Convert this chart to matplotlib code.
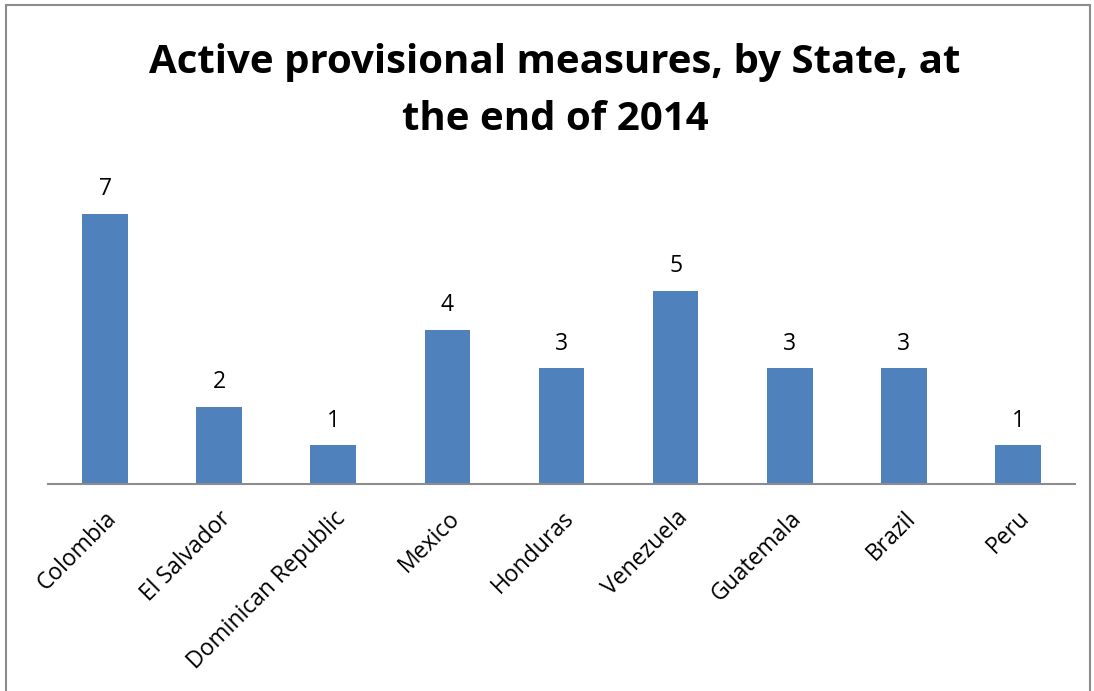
import matplotlib.pyplot as plt
from matplotlib.patches import Rectangle

states = [
    "Colombia",
    "El Salvador",
    "Dominican Republic",
    "Mexico",
    "Honduras",
    "Venezuela",
    "Guatemala",
    "Brazil",
    "Peru",
]
measures = [7, 2, 1, 4, 3, 5, 3, 3, 1]
title_lines = [
    "Active provisional measures, by State, at",
    "the end of 2014",
]

plt.rcParams["font.family"] = ["Open Sans", "DejaVu Sans"]

figure = plt.figure(figsize=(10.94, 6.91), dpi=100)

# chart frame (grey outline, bottom cropped)
figure.add_artist(
    Rectangle(
        (6 / 1094, -0.01),
        (1090 - 6) / 1094,
        (691 - 5) / 691 + 0.01,
        transform=figure.transFigure,
        fill=False,
        edgecolor="#8c8c8c",
        linewidth=1.5,
    )
)

axis = figure.add_axes(
    [48 / 1094, (691 - 484) / 691, (1075 - 48) / 1094, (484 - 175) / 691]
)

positions = range(len(states))
axis.bar(positions, measures, width=0.4, color="#4f81bd")

for position, value in zip(positions, measures):
    axis.annotate(
        str(value),
        (position, value),
        xytext=(0, 9),
        textcoords="offset points",
        ha="center",
        va="bottom",
        fontsize=16.5,
    )

axis.set_xlim(-0.5, len(states) - 0.5)
axis.set_ylim(0, 8)
axis.set_yticks([])
axis.set_xticks(list(positions))
axis.set_xticklabels(
    states,
    rotation=45,
    ha="right",
    rotation_mode="anchor",
    fontsize=16.5,
)
axis.tick_params(axis="x", length=0, pad=16)

for side in ["top", "right", "left"]:
    axis.spines[side].set_visible(False)
axis.spines["bottom"].set_color("#8c8c8c")
axis.spines["bottom"].set_linewidth(1.5)

# title, one line at a time so baselines sit where the reference has them
for line, baseline in zip(title_lines, [73, 130]):
    figure.text(
        555 / 1094,
        1 - baseline / 691,
        line,
        ha="center",
        va="baseline",
        fontsize=29,
        fontweight="bold",
    )

figure.savefig("out.png", dpi=100)
plt.close(figure)
